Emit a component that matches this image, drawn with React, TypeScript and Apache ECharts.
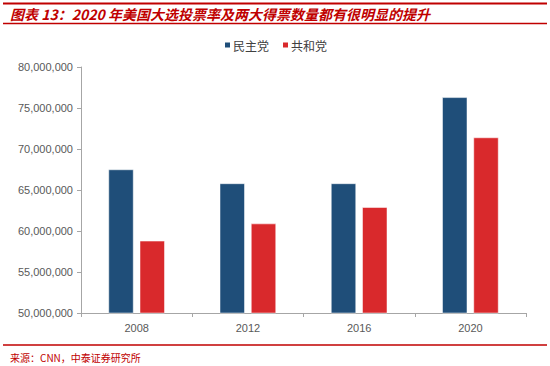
import React, { useEffect, useRef } from "react";
import * as echarts from "echarts";

const categories = ["2008", "2012", "2016", "2020"];
const democrats = [67500000, 65800000, 65800000, 76300000];
const republicans = [58800000, 60900000, 62900000, 71400000];
const seriesNames = ["民主党", "共和党"];
const titleText = "图表 13：2020 年美国大选投票率及两大得票数量都有很明显的提升";
const sourceText = "来源：CNN，中泰证券研究所";

export default function App() {
  const ref = useRef<HTMLDivElement>(null);
  useEffect(() => {
    const chart = echarts.init(ref.current!, null, { renderer: "svg" });
    const red = "#C00000";
    chart.setOption({
      animation: false,
      backgroundColor: "#ffffff",
      textStyle: { fontFamily: "Liberation Sans, Arial, Noto Sans CJK SC, sans-serif" },
      legend: {
        top: 34,
        left: "center",
        itemWidth: 7,
        itemHeight: 7,
        itemGap: 12,
        icon: "rect",
        textStyle: { fontSize: 12, color: "#404040", fontFamily: "Noto Sans CJK SC, sans-serif", padding: [0, 0, 0, -3] },
        data: seriesNames,
      },
      grid: { left: 81, right: 24, top: 67, bottom: 53 },
      xAxis: {
        type: "category",
        data: categories,
        axisLine: { lineStyle: { color: "#A6A6A6", width: 1 } },
        axisTick: { show: true, alignWithLabel: false, length: 4, lineStyle: { color: "#A6A6A6" } },
        axisLabel: { fontSize: 11, color: "#595959", margin: 9 },
      },
      yAxis: {
        type: "value",
        min: 50000000,
        max: 80000000,
        interval: 5000000,
        axisLine: { show: true, lineStyle: { color: "#A6A6A6", width: 1 } },
        axisTick: { show: true, length: 4, lineStyle: { color: "#A6A6A6" } },
        splitLine: { show: false },
        axisLabel: {
          fontSize: 11,
          color: "#595959",
          margin: 8,
          formatter: (v: number) => v.toLocaleString("en-US"),
        },
      },
      series: [
        {
          name: seriesNames[0],
          type: "bar",
          data: democrats,
          barWidth: 25,
          barGap: "25%",
          itemStyle: { color: "#1F4E79", borderColor: "#ffffff", borderWidth: 0.5 },
        },
        {
          name: seriesNames[1],
          type: "bar",
          data: republicans,
          barWidth: 25,
          itemStyle: { color: "#D9292C", borderColor: "#ffffff", borderWidth: 0.5 },
        },
      ],
      graphic: [
        { type: "rect", shape: { x: 3, y: 2.5, width: 544, height: 2 }, style: { fill: red } },
        {
          type: "text",
          x: 10,
          y: 13.5,
          style: {
            text: titleText,
            fill: red,
            font: "italic bold 14px 'Noto Sans CJK SC', sans-serif",
            verticalAlign: "middle",
          },
        },
        { type: "rect", shape: { x: 3, y: 22.8, width: 544, height: 1.5 }, style: { fill: red } },
        { type: "rect", shape: { x: 3, y: 344.3, width: 544, height: 1.5 }, style: { fill: red } },
        {
          type: "text",
          x: 10,
          y: 357,
          style: {
            text: sourceText,
            fill: red,
            font: "10px 'Noto Sans CJK SC', serif",
            verticalAlign: "middle",
          },
        },
      ],
    });
    return () => chart.dispose();
  }, []);
  return (
    <div
      ref={ref}
      style={{ position: "fixed", left: 0, top: 0, width: 550, height: 366 }}
    />
  );
}
